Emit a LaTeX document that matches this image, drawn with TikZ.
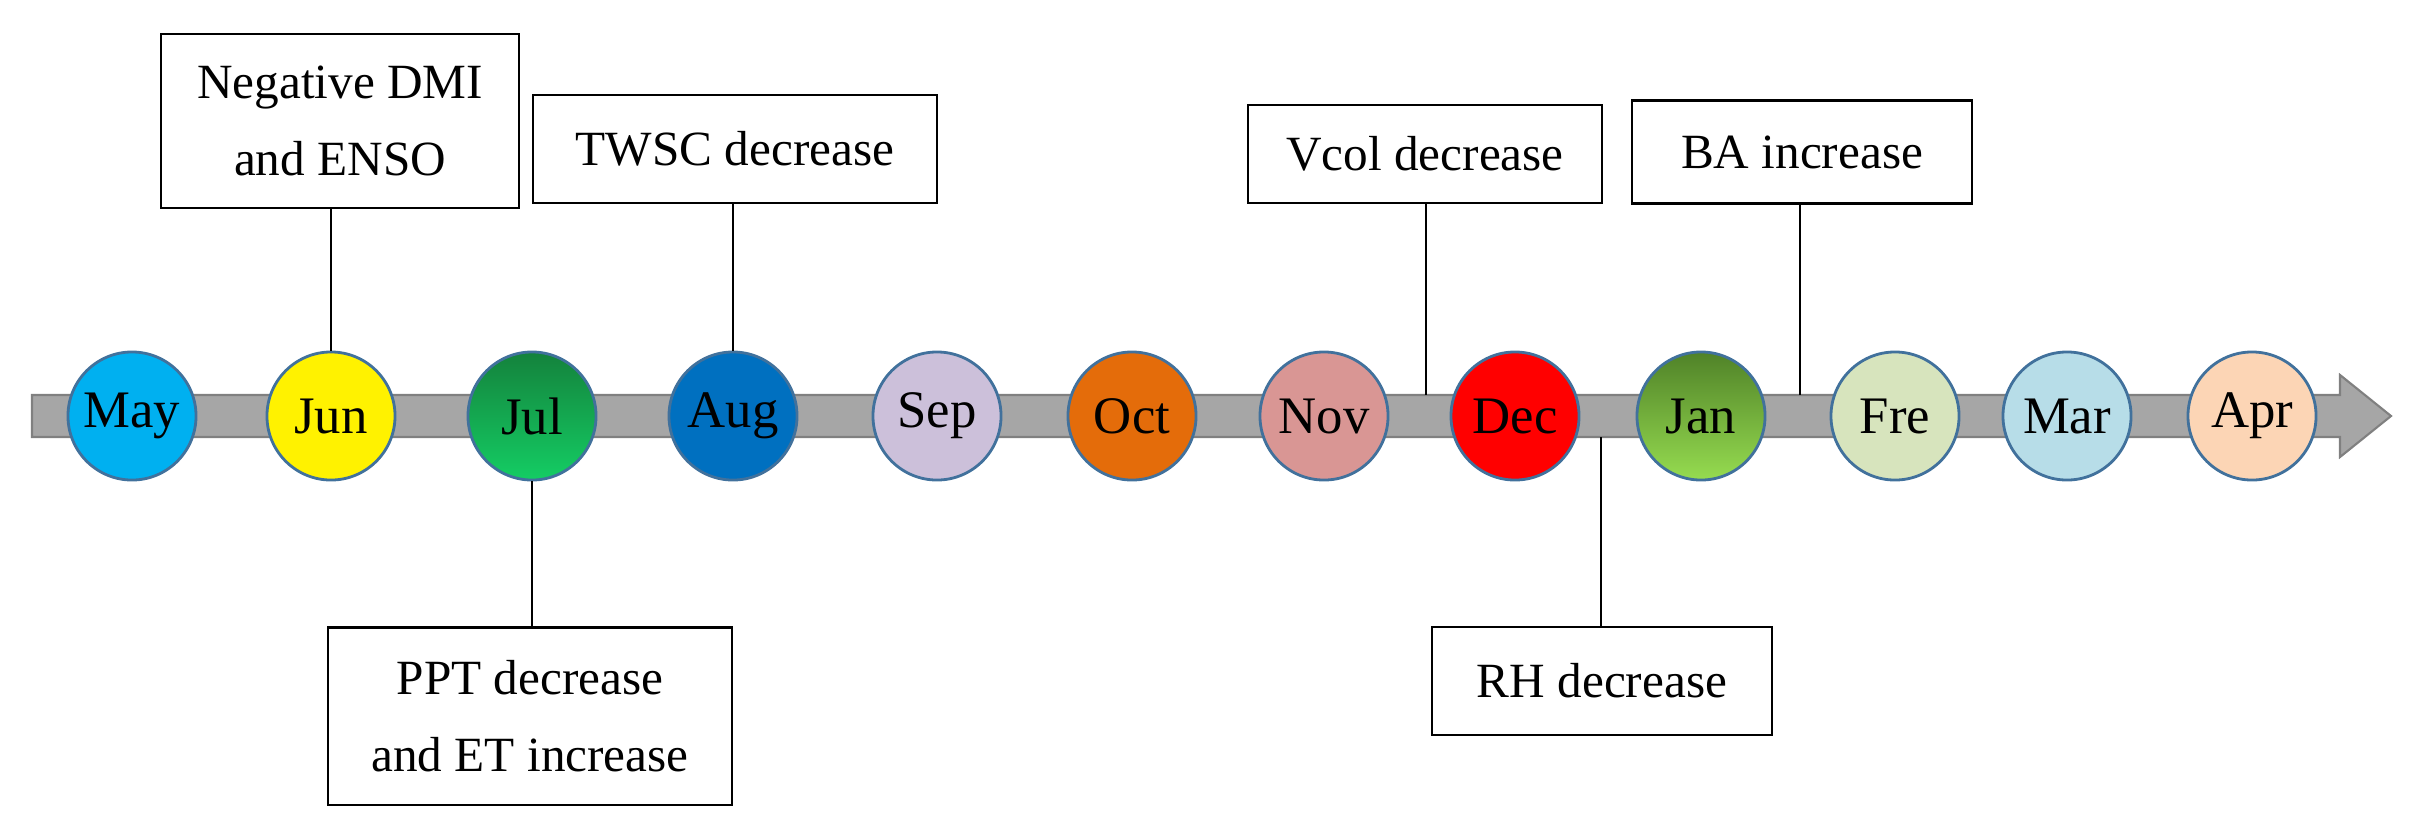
\documentclass[tikz,border=0pt]{standalone}
\usepackage{fontspec}
\setmainfont{Liberation Serif}
\definecolor{myedge}{RGB}{65,113,156}
\definecolor{mygray}{RGB}{166,166,166}
\usetikzlibrary{arrows.meta}
\tikzset{
    month/.style={
           circle,
           draw=myedge, thick,
           minimum size=1.28cm,
           inner sep=0pt,
           font=\fontsize{15}{18}\selectfont,
           },
    event/.style={
           rectangle,
           draw=black, semithick,
           fill=white,
           align=center,
           font=\fontsize{14}{22}\selectfont,
           },
}
\begin{document}
\begin{tikzpicture}[x=0.01cm,y=0.01cm,semithick]
  \useasboundingbox (0,0) rectangle (2416,832);
  % timeline bar
  \node[coordinate] (S) at (32,  416) {};
  \node[coordinate] (T) at (2391,416) {};
  \fill[mygray, draw=gray] (32,437) -- (2340,437) -- (2340,457) -- (T) -- (2340,375) -- (2340,395) -- (32,395) -- cycle;
  % months
  \node[month, fill={rgb,255:red,0;green,176;blue,240}]  (May) at ( 132,416) {May};
  \node[month, fill=yellow]                                (Jun) at ( 331,416) {Jun};
  \node[month, top color={rgb,255:red,20;green,130;blue,60}, bottom color={rgb,255:red,20;green,205;blue,100}] (Jul) at ( 532,416) {Jul};
  \node[month, fill={rgb,255:red,0;green,112;blue,192}]  (Aug) at ( 733,416) {Aug};
  \node[month, fill={rgb,255:red,204;green,192;blue,218}]  (Sep) at ( 937,416) {Sep};
  \node[month, fill={rgb,255:red,228;green,108;blue,10}]  (Oct) at (1132,416) {Oct};
  \node[month, fill={rgb,255:red,217;green,150;blue,148}] (Nov) at (1324,416) {Nov};
  \node[month, fill=red]                                    (Dec) at (1515,416) {Dec};
  \node[month, top color={rgb,255:red,80;green,130;blue,40}, bottom color={rgb,255:red,150;green,220;blue,80}] (Jan) at (1701,416) {Jan};
  \node[month, fill={rgb,255:red,215;green,228;blue,189}] (Fre) at (1895,416) {Fre};
  \node[month, fill={rgb,255:red,183;green,221;blue,232}] (Mar) at (2067,416) {Mar};
  \node[month, fill={rgb,255:red,252;green,213;blue,181}] (Apr) at (2252,416) {Apr};
  % events
  \node[event, minimum width=3.57cm, minimum height=1.74cm] (DMI)  at ( 340,711) {Negative DMI\\and ENSO};
  \node[event, minimum width=4.03cm, minimum height=1.08cm] (TWSC) at ( 735,683) {TWSC decrease};
  \node[event, minimum width=4.04cm, minimum height=1.77cm] (PPT)  at ( 530,116) {PPT decrease\\and ET increase};
  \node[event, minimum width=3.54cm, minimum height=0.98cm] (Vcol) at (1425,678) {Vcol decrease};
  \node[event, minimum width=3.39cm, minimum height=1.03cm] (BA)   at (1802,680) {BA increase};
  \node[event, minimum width=3.39cm, minimum height=1.08cm] (RH)   at (1602,151) {RH decrease};
  \node[coordinate] (c1) at (1426,437) {};
  \node[coordinate] (c2) at (1800,437) {};
  \node[coordinate] (c3) at (1601,395) {};
  % connectors
  \draw (DMI.south -| Jun.north)  -- (Jun.north);
  \draw (TWSC.south -| Aug.north) -- (Aug.north);
  \draw (PPT.north -| Jul.south)  -- (Jul.south);
  \draw (Vcol.south -| c1) -- (c1);
  \draw (BA.south -| c2)   -- (c2);
  \draw (RH.north -| c3)   -- (c3);
\end{tikzpicture}
\end{document}
